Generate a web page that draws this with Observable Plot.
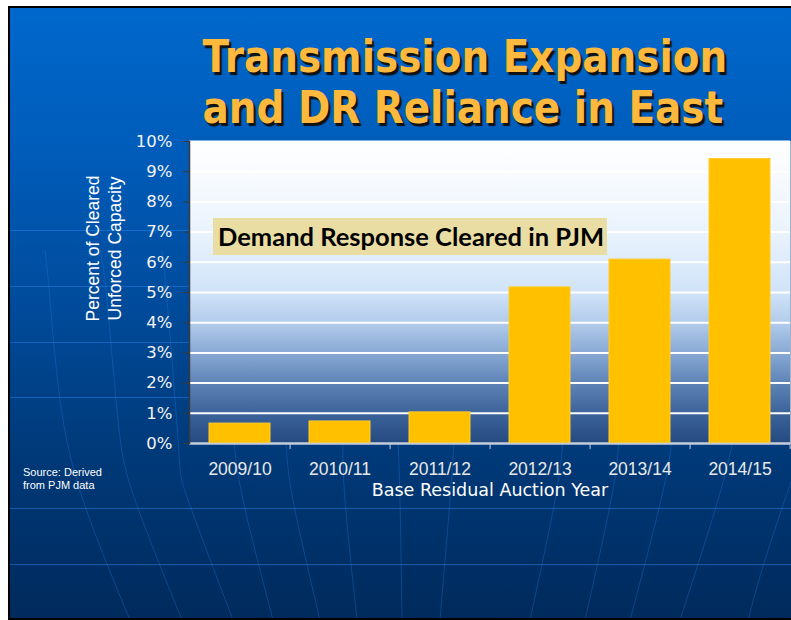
<!DOCTYPE html>
<html>
<head>
<meta charset="utf-8">
<script src="https://cdn.jsdelivr.net/npm/d3@7"></script>
<script src="https://cdn.jsdelivr.net/npm/@observablehq/plot@0.6"></script>
<style>
  html, body { margin: 0; padding: 0; width: 791px; height: 620px; overflow: hidden; background: #fff; }
  #slide {
    position: absolute; left: 8px; top: 6px; width: 820px; height: 610px;
    border-top: 2px solid #000; border-left: 2px solid #000; border-bottom: 2px solid #000;
    background: linear-gradient(to bottom, #0068cc 0%, #005bb8 25%, #004a99 50%, #003a7a 72%, #002a5c 100%);
    overflow: hidden;
  }
  #title {
    position: absolute; left: 162px; top: 31px; width: 600px; text-align: center;
    font-family: "DejaVu Sans", sans-serif; font-weight: bold; font-size: 45px; line-height: 51px;
    color: #FDB93D; text-shadow: 2.5px 2.5px 1px #111;
    transform: scaleX(0.865); transform-origin: 50% 50%; white-space: nowrap;
  }
  #chart { position: absolute; left: 0; top: 0; }
  #note {
    position: absolute; left: 213px; top: 218px; width: 389px; height: 37px; padding-left: 5px;
    background: #E9DDA3; font-family: Lato, sans-serif; font-weight: bold; font-size: 25.5px;
    line-height: 37px; color: #000; white-space: nowrap;
  }
  #source {
    position: absolute; left: 23px; top: 466px; font-family: "Liberation Sans", Arial, sans-serif;
    font-size: 11px; line-height: 12.5px; color: #fff;
  }
</style>
</head>
<body>
<div id="slide"></div>
<div id="chart"></div>
<div id="title">Transmission Expansion<br>and DR Reliance in East</div>
<div id="note">Demand Response Cleared in PJM</div>
<div id="source">Source: Derived<br>from PJM data</div>
<script>
const years = ["2009/10", "2010/11", "2011/12", "2012/13", "2013/14", "2014/15"];
const drPercent = [0.66, 0.73, 1.03, 5.17, 6.09, 9.42];
const yTicks = [0, 1, 2, 3, 4, 5, 6, 7, 8, 9, 10];
const yLabel = "Percent of Cleared\nUnforced Capacity";
const xLabel = "Base Residual Auction Year";

// ---- decorative globe lines of the slide background (not data) ----
const latLines = [230, 286, 342, 397, 508, 564];
const meridians = [
  [[45,250],[50,300],[60,400],[83,500],[130,620]],
  [[100,250],[107,300],[118,420],[135,500],[182,620]],
  [[162,250],[167,300],[178,440],[188,500],[233,620]],
  [[234,440],[243,500],[273,620]],
  [[286,440],[293,500],[320,620]],
  [[343,440],[345,500],[357,620]],
  [[398,440],[400,500],[402,620]],
  [[454,440],[450,500],[440,620]],
  [[563,440],[555,500],[530,620]],
  [[619,440],[611,500],[585,620]],
  [[672,440],[661,500],[630,620]],
  [[733,440],[718,500],[680,620]],
  [[795,470],[765,560],[748,620]]
];
const deco = d3.select("body").insert("svg", "#chart").attr("id", "deco")
  .attr("width", 791).attr("height", 620).style("position", "absolute").style("left", 0).style("top", 0);
deco.append("defs").append("clipPath").attr("id", "slideClip")
  .append("rect").attr("x", 10).attr("y", 8).attr("width", 781).attr("height", 610);
const dg = deco.append("g").attr("clip-path", "url(#slideClip)").attr("fill", "none");
latLines.forEach(y => dg.append("line").attr("x1", 0).attr("x2", 791).attr("y1", y + 0.5).attr("y2", y + 0.5)
  .attr("stroke", "rgba(40,130,235,0.5)").attr("stroke-width", 1));
const lineGen = d3.line().curve(d3.curveNatural);
meridians.forEach(pts => dg.append("path").attr("d", lineGen(pts))
  .attr("stroke", "rgba(40,130,235,0.3)").attr("stroke-width", 1));

// ---- chart ----
const data = years.map((year, i) => ({year, value: drPercent[i]}));

const W = 791, H = 620, mL = 189, mR = 1, mT = 141, mB = 177;
const step = (W - mL - mR) / years.length;

const chart = Plot.plot({
  width: W, height: H,
  marginLeft: mL, marginRight: mR, marginTop: mT, marginBottom: mB,
  style: {background: "transparent", overflow: "visible"},
  x: {domain: years, paddingInner: 0.39, paddingOuter: 0.195, label: null},
  y: {domain: [0, 10], label: null},
  marks: [
    Plot.frame({fill: "url(#plotGrad)", stroke: "#9fb3cf"}),
    Plot.gridY(yTicks, {stroke: "#ffffff", strokeOpacity: 1, strokeWidth: 2}),
    Plot.barY(data, {x: "year", y: "value", fill: "#FFC000", stroke: "#FFCB2E", strokeWidth: 1}),
    Plot.ruleY([0], {stroke: "#c3ccd8", strokeWidth: 1.5}),
    Plot.ruleX(years, {x: d => d, y1: 0, y2: -0.2, dx: step / 2, stroke: "#c3ccd8"}),
    Plot.frame({anchor: "left", stroke: "#3a3a3a", strokeWidth: 1.5}),
    Plot.axisY(yTicks, {
      tickFormat: d => d + "%", tickSize: 6, tickPadding: 11, stroke: "#3a3a3a",
      fill: "#f4f4f4", fontSize: 16.5, fontFamily: "DejaVu Sans", label: null
    }),
    Plot.axisX({
      tickSize: 0, tickPadding: 19, fill: "#e8e8e8", fontSize: 17.5,
      fontFamily: "Liberation Sans", label: null
    }),
    Plot.text([xLabel], {
      text: d => d, frameAnchor: "bottom", lineAnchor: "top", dy: 40,
      fill: "#ffffff", fontSize: 17.5, fontFamily: "DejaVu Sans"
    }),
    Plot.text([yLabel], {
      text: d => d, frameAnchor: "left", textAnchor: "middle", rotate: -90, dx: -87, dy: -44,
      lineAnchor: "middle", lineHeight: 1.26, fill: "#ffffff", fontSize: 17.5,
      fontFamily: "Liberation Sans", letterSpacing: "0.5px"
    })
  ]
});

const svg = d3.select(chart.tagName.toLowerCase() === "svg" ? chart : chart.querySelector("svg"));
const grad = svg.insert("defs", ":first-child").append("linearGradient")
  .attr("id", "plotGrad").attr("x1", 0).attr("y1", 0).attr("x2", 0).attr("y2", 1);
[[0, "#ffffff"], [0.3, "#eaf3fd"], [0.5, "#d0e3f8"], [0.6, "#b2cceb"], [0.7, "#88a9d4"],
 [0.8, "#5e83b6"], [0.9, "#3c639a"], [1, "#244a80"]].forEach(([o, c]) =>
  grad.append("stop").attr("offset", o).attr("stop-color", c));

document.getElementById("chart").appendChild(chart);
</script>
</body>
</html>
